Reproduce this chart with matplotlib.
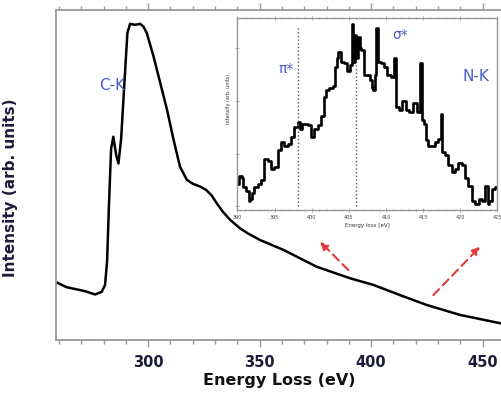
import numpy as np
import matplotlib.pyplot as plt
from matplotlib.ticker import MultipleLocator

# C-K edge spectrum (main panel)
energy_ck = [259.1, 263.5, 271.7, 276.2, 279.2, 280.7, 281.6, 282.5, 283.4, 284.4,
             285.7, 286.7, 287.9, 289.2, 290.7, 291.9, 294.2, 296.4, 297.9, 299.4,
             302.4, 305.4, 308.4, 311.3, 314.3, 317.4, 320.2, 323.3, 326.0, 328.5,
             330.8, 333.6, 336.8, 341.3, 345.0, 350.2, 360.7, 375.6, 390.6, 401.0,
             413.0, 425.0, 439.9, 457.8]
intensity_ck = [0.174, 0.160, 0.148, 0.138, 0.146, 0.167, 0.240, 0.420, 0.580, 0.616,
                0.560, 0.535, 0.610, 0.760, 0.930, 0.958, 0.955, 0.958, 0.950, 0.930,
                0.860, 0.780, 0.700, 0.610, 0.525, 0.485, 0.473, 0.465, 0.455, 0.438,
                0.414, 0.388, 0.364, 0.338, 0.322, 0.303, 0.273, 0.222, 0.187, 0.167,
                0.136, 0.106, 0.076, 0.051]

# N-K edge, background subtracted (inset)
energy_nk = [390.0, 390.5, 390.7, 390.9, 391.4, 391.6, 391.8, 392.0, 392.5, 392.9,
             393.4, 393.8, 394.3, 394.7, 395.2, 395.6, 396.1, 396.5, 397.0, 397.4,
             397.9, 398.3, 398.6, 398.8, 399.2, 399.7, 400.1, 400.6, 401.0, 401.5,
             401.7, 402.1, 402.6, 403.0, 403.2, 403.5, 403.7, 404.1, 404.6, 405.0,
             405.3, 405.5, 405.7, 405.9, 406.1, 406.4, 406.6, 406.8, 407.3, 407.7,
             408.0, 408.2, 408.4, 408.6, 408.8, 409.1, 409.5, 410.0, 410.4, 410.9,
             411.3, 411.5, 412.0, 412.4, 412.9, 413.3, 413.9, 414.4, 414.8, 415.0,
             415.3, 415.5, 415.9, 416.4, 416.8, 417.3, 417.5, 417.7, 418.2, 418.6,
             419.1, 419.5, 420.0, 420.4, 420.9, 421.3, 421.8, 422.3, 422.7, 423.2,
             423.6, 423.8, 424.1, 424.5, 425.0]
intensity_nk = [0.12, 0.16, 0.15, 0.10, 0.08, 0.03, 0.04, 0.07, 0.10, 0.12,
                0.14, 0.25, 0.24, 0.20, 0.21, 0.30, 0.34, 0.32, 0.33, 0.37,
                0.42, 0.45, 0.41, 0.44, 0.44, 0.43, 0.37, 0.41, 0.43, 0.48,
                0.58, 0.62, 0.63, 0.64, 0.74, 0.79, 0.82, 0.77, 0.76, 0.72,
                0.75, 0.97, 0.77, 0.91, 0.79, 0.90, 0.84, 0.83, 0.70, 0.70,
                0.67, 0.63, 0.62, 0.70, 0.95, 0.77, 0.76, 0.74, 0.70, 0.69,
                0.79, 0.53, 0.51, 0.56, 0.51, 0.50, 0.55, 0.50, 0.76, 0.46,
                0.44, 0.35, 0.32, 0.32, 0.34, 0.36, 0.49, 0.29, 0.27, 0.22,
                0.18, 0.20, 0.23, 0.22, 0.15, 0.11, 0.03, 0.01, 0.04, 0.03,
                0.11, 0.01, 0.03, 0.09, 0.10]

pi_star = 398.2
sigma_star = 405.9

dark = '#1c1c3a'
blue = '#4a5ac8'
grey = '#9a9a9a'

fig = plt.figure(figsize=(5.02, 4.03), dpi=100)
ax = fig.add_axes([0.1116, 0.1563, 0.8884, 0.8189])

ax.plot(energy_ck, intensity_ck, color='black', lw=1.8)
ax.set_xlim(258.7, 458.7)
ax.set_ylim(0, 1)

ax.xaxis.set_major_locator(MultipleLocator(50))
ax.xaxis.set_minor_locator(MultipleLocator(10))
ax.tick_params(axis='x', which='both', direction='out', color=grey,
               top=True, labeltop=False)
ax.tick_params(axis='x', which='major', length=5, width=1, pad=6,
               labelsize=10.5, labelcolor=dark)
ax.tick_params(axis='x', which='minor', length=3, width=1)
ax.set_yticks([])
for lbl in ax.get_xticklabels():
    lbl.set_fontweight('bold')
for s in ['left', 'bottom', 'top']:
    ax.spines[s].set_color(grey)
    ax.spines[s].set_linewidth(1.3)
ax.spines['right'].set_visible(False)

ax.set_xlabel('Energy Loss (eV)', fontsize=11.5, fontweight='bold',
              color='#111111', labelpad=2)
ax.set_ylabel('Intensity (arb. units)', fontsize=11, fontweight='bold',
              color=dark, labelpad=20)
ax.yaxis.set_label_coords(-0.085, 0.46)

ax.text(284, 0.77, 'C-K', color=blue, fontsize=11, ha='center', va='center')

# dashed red arrows pointing towards the inset
arrow = dict(arrowstyle='-|>,head_length=0.45,head_width=0.22', color='#e03a3a',
             lw=1.5, linestyle=(0, (4, 2.5)), shrinkA=0, shrinkB=0)
ax.annotate('', xy=(377.1, 0.298), xytext=(389.8, 0.212), arrowprops=arrow)
ax.annotate('', xy=(448.9, 0.283), xytext=(427.9, 0.136), arrowprops=arrow)

# inset with the N-K edge
ins = fig.add_axes([0.4731, 0.4789, 0.5175, 0.4757])
ins.plot(energy_nk, intensity_nk, color='black', lw=1.9, drawstyle='steps-mid')
ins.vlines(pi_star, 0, 0.96, colors='#555555', linestyles=':', lw=1)
ins.vlines(sigma_star, 0, 0.77, colors='#555555', linestyles=':', lw=1)
ins.set_xlim(390, 425)
ins.set_ylim(-0.02, 1.0)
ins.xaxis.set_major_locator(MultipleLocator(5))
ins.xaxis.set_minor_locator(MultipleLocator(1))
ins.yaxis.set_major_locator(MultipleLocator(0.28))
ins.tick_params(axis='both', which='both', direction='inout', color=grey,
                top=True, labelsize=3.5, labelcolor='#444444', pad=2)
ins.tick_params(which='major', length=3, width=0.6)
ins.tick_params(which='minor', length=1.5, width=0.6)
ins.tick_params(axis='y', labelleft=False)
for s in ins.spines.values():
    s.set_color(grey)
    s.set_linewidth(1)
ins.set_xlabel('Energy loss [eV]', fontsize=4, color='#333333', labelpad=2)
ins.set_ylabel('Intensity (arb. units)', fontsize=3.5, color='#333333')
ins.yaxis.set_label_coords(-0.025, 0.58)

ins.text(396.6, 0.73, 'π*', color=blue, fontsize=10, ha='center', va='center')
ins.text(411.9, 0.91, 'σ*', color=blue, fontsize=10, ha='center', va='center')
ins.text(422.1, 0.69, 'N-K', color=blue, fontsize=11, ha='center', va='center')

fig.savefig('out.png', dpi=100)
